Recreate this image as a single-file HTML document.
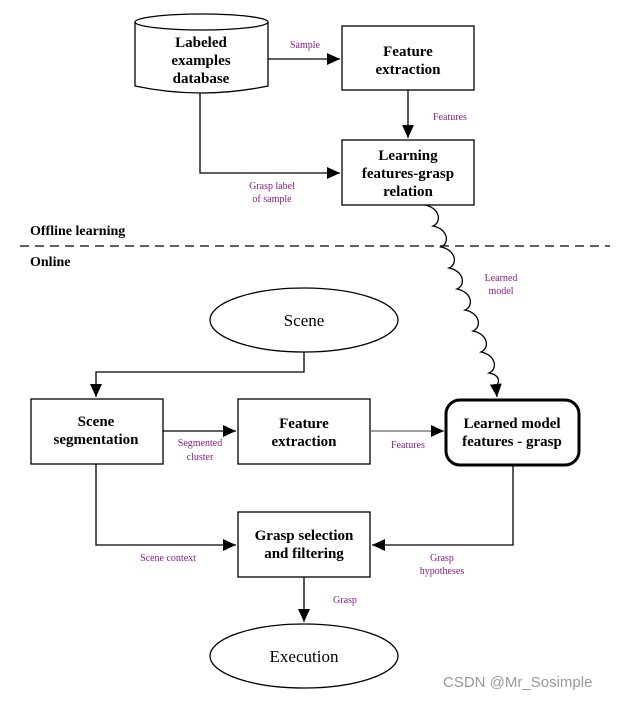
<!DOCTYPE html>
<html><head><style>
html,body{margin:0;padding:0;background:#fff;}
svg{display:block;}
.t{font-family:"Liberation Serif",serif;font-weight:bold;font-size:15px;fill:#000;text-anchor:middle;}
.n{font-family:"Liberation Serif",serif;font-size:17px;fill:#000;text-anchor:middle;}
.l{font-family:"Liberation Serif",serif;font-size:10px;fill:#8a1a8a;text-anchor:middle;}
.s{font-family:"Liberation Serif",serif;font-weight:bold;font-size:14px;fill:#000;}
</style></head><body>
<svg width="618" height="701" viewBox="0 0 618 701">
<defs><marker id="b" markerWidth="14" markerHeight="14" refX="13" refY="6" orient="auto" markerUnits="userSpaceOnUse"><path d="M0,0 L13,6 L0,12 z" fill="#000"/></marker></defs>
<g fill="none" stroke="#000" stroke-width="1.3">
<path d="M135,22 L135,86 Q201,100 268,86 L268,22" fill="#fff"/>
<ellipse cx="201.5" cy="22" rx="66.5" ry="8" fill="#fff"/>
<rect x="342" y="26" width="132" height="64" fill="#fff"/>
<rect x="342" y="140" width="132" height="65" fill="#fff"/>
<path d="M268,59 L340,59" marker-end="url(#b)"/>
<path d="M408,90 L408,138" marker-end="url(#b)"/>
<path d="M200,93 L200,173 L340,173" marker-end="url(#b)"/>
<path d="M425,205 C440,208 442,222 433,226 C448,229 450,243 441,247 C456,250 458,264 449,268 C464,271 466,285 457,289 C472,292 474,306 465,310 C480,313 482,327 473,331 C488,334 490,348 481,352 C496,355 498,369 489,373 C500,375 500,382 496,386"/>
<path d="M496,386 L497,397" marker-end="url(#b)"/>
<path d="M20,246 L610,246" stroke-dasharray="9,6"/>
<ellipse cx="304" cy="320" rx="94" ry="32" fill="#fff"/>
<path d="M304,352 L304,372 L96,372 L96,397" marker-end="url(#b)"/>
<rect x="31" y="399" width="132" height="65" fill="#fff"/>
<rect x="238" y="399" width="132" height="65" fill="#fff"/>
<rect x="446" y="400" width="133" height="65" rx="14" fill="#fff" stroke-width="3"/>
<path d="M163,431 L236,431" marker-end="url(#b)"/>
<path d="M370,431 L444,431" stroke="#666" marker-end="url(#b)"/>
<rect x="238" y="512" width="132" height="65" fill="#fff"/>
<path d="M96,464 L96,545 L236,545" marker-end="url(#b)"/>
<path d="M513,466 L513,545 L372,545" marker-end="url(#b)"/>
<path d="M304,577 L304,622" marker-end="url(#b)"/>
<ellipse cx="304" cy="656" rx="94" ry="32" fill="#fff"/>
</g>
<text class="t" x="201" y="47">Labeled</text>
<text class="t" x="201" y="65">examples</text>
<text class="t" x="201" y="83">database</text>
<text class="t" x="408" y="56">Feature</text>
<text class="t" x="408" y="74">extraction</text>
<text class="t" x="408" y="160">Learning</text>
<text class="t" x="408" y="178">features-grasp</text>
<text class="t" x="408" y="196">relation</text>
<text class="l" x="305" y="48">Sample</text>
<text class="l" x="450" y="120">Features</text>
<text class="l" x="272" y="189">Grasp label</text>
<text class="l" x="272" y="202">of sample</text>
<text class="s" x="30" y="235">Offline learning</text>
<text class="s" x="30" y="266">Online</text>
<text class="l" x="501" y="281">Learned</text>
<text class="l" x="501" y="294">model</text>
<text class="n" x="304" y="326">Scene</text>
<text class="t" x="96" y="426">Scene</text>
<text class="t" x="96" y="444">segmentation</text>
<text class="t" x="304" y="428">Feature</text>
<text class="t" x="304" y="446">extraction</text>
<text class="t" x="512" y="428">Learned model</text>
<text class="t" x="512" y="446">features - grasp</text>
<text class="l" x="200" y="446">Segmented</text>
<text class="l" x="200" y="460">cluster</text>
<text class="l" x="408" y="448">Features</text>
<text class="t" x="304" y="540">Grasp selection</text>
<text class="t" x="304" y="558">and filtering</text>
<text class="l" x="168" y="561">Scene context</text>
<text class="l" x="442" y="561">Grasp</text>
<text class="l" x="442" y="574">hypotheses</text>
<text class="l" x="345" y="603">Grasp</text>
<text class="n" x="304" y="662">Execution</text>
<text x="443" y="687" style="font-family:'Liberation Sans',sans-serif;font-size:15px;fill:#999;">CSDN @Mr_Sosimple</text>
</svg>
</body></html>
